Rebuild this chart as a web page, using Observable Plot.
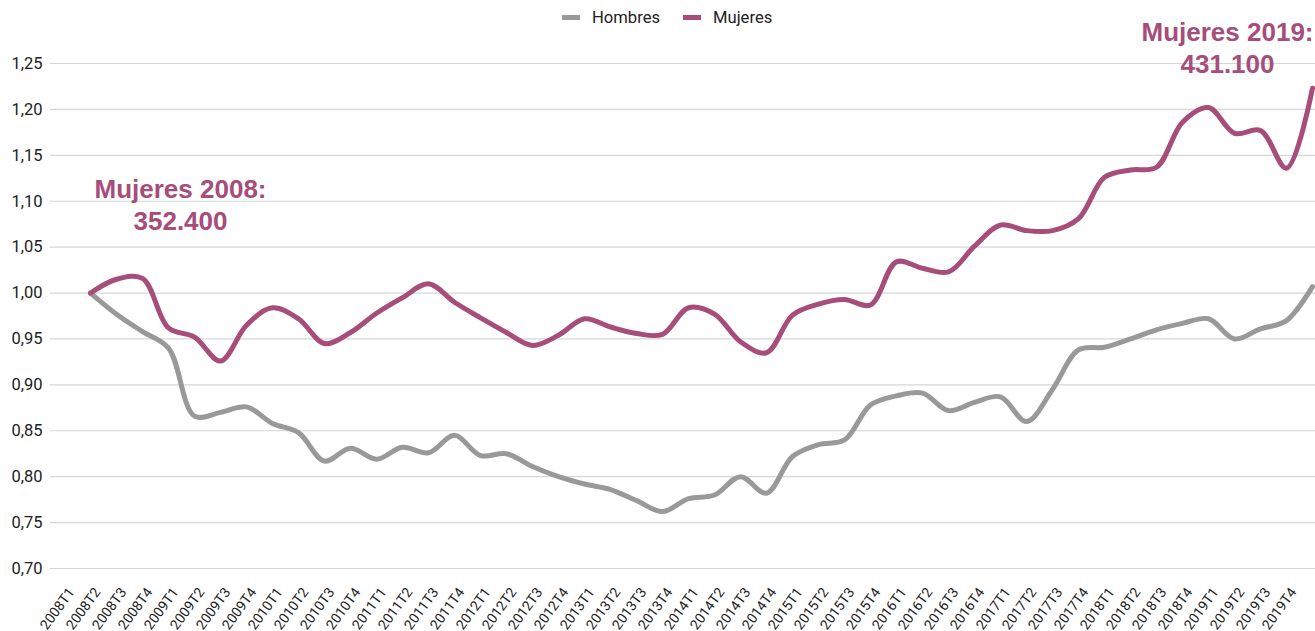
<!DOCTYPE html>
<html><head><meta charset="utf-8">
<script src="https://cdn.jsdelivr.net/npm/d3@7"></script>
<script src="https://cdn.jsdelivr.net/npm/@observablehq/plot@0.6"></script>
<style>
body{margin:0;background:#fff;}
#wrap{position:relative;width:1315px;height:631px;overflow:hidden;}
#legend{position:absolute;top:8px;left:562px;display:flex;align-items:center;font-family:Roboto,sans-serif;font-size:16.6px;color:#222;z-index:2;}
.item{display:flex;align-items:center;margin-right:23px;}
.sw{display:inline-block;width:18px;height:5px;margin-right:12px;}
</style></head>
<body><div id="wrap"><div id="legend"></div><div id="chart"></div></div>
<script>
const quarters = ["2008T1","2008T2","2008T3","2008T4","2009T1","2009T2","2009T3","2009T4",
  "2010T1","2010T2","2010T3","2010T4","2011T1","2011T2","2011T3","2011T4",
  "2012T1","2012T2","2012T3","2012T4","2013T1","2013T2","2013T3","2013T4",
  "2014T1","2014T2","2014T3","2014T4","2015T1","2015T2","2015T3","2015T4",
  "2016T1","2016T2","2016T3","2016T4","2017T1","2017T2","2017T3","2017T4",
  "2018T1","2018T2","2018T3","2018T4","2019T1","2019T2","2019T3","2019T4"];
const hombres = [1.000,0.977,0.958,0.940,0.866,0.870,0.876,0.858,0.848,0.817,0.831,0.819,
  0.832,0.826,0.845,0.823,0.825,0.811,0.800,0.792,0.786,0.774,0.762,0.776,
  0.780,0.800,0.782,0.822,0.835,0.840,0.878,0.888,0.891,0.872,0.881,0.887,
  0.860,0.895,0.938,0.941,0.950,0.960,0.967,0.972,0.950,0.961,0.970,1.007];
const mujeres = [1.000,1.015,1.016,0.962,0.952,0.926,0.965,0.984,0.972,0.945,0.957,0.978,
  0.995,1.010,0.990,0.973,0.957,0.943,0.954,0.972,0.963,0.956,0.955,0.984,
  0.977,0.947,0.935,0.976,0.988,0.993,0.987,1.034,1.027,1.023,1.051,1.074,
  1.068,1.068,1.081,1.126,1.134,1.137,1.186,1.202,1.174,1.177,1.136,1.223];
const series = ["Hombres","Mujeres"];
const colors = ["#999999","#a64d79"];
const yTicks = [0.70,0.75,0.80,0.85,0.90,0.95,1.00,1.05,1.10,1.15,1.20,1.25];
const annotQ = ["2008T4","2019T1"];
const annotY = [1.097,1.268];
const annotText = ["Mujeres 2008:\n352.400","Mujeres 2019:\n431.100"];

const data = quarters.flatMap((q,i)=>[
  {q, serie:series[0], v:hombres[i]},
  {q, serie:series[1], v:mujeres[i]}
]);
const annots = annotQ.map((q,i)=>({q, v:annotY[i], label:annotText[i]}));

// legend
const leg = document.getElementById("legend");
series.forEach((s,i)=>{
  const it = document.createElement("div"); it.className="item";
  const sw = document.createElement("span"); sw.className="sw"; sw.style.background=colors[i];
  const tx = document.createElement("span"); tx.textContent=s;
  it.appendChild(sw); it.appendChild(tx); leg.appendChild(it);
});

const annStyle = {x:"q", y:"v", text:"label", fontWeight:"bold", fontFamily:"Liberation Sans, Arial, sans-serif",
  fontSize:26, fill:colors[1], lineHeight:1.22, lineAnchor:"middle", textAnchor:"middle"};

const chart = Plot.plot({
  width:1315, height:631,
  marginLeft:50, marginRight:0, marginTop:63, marginBottom:63,
  style:{fontFamily:"Roboto, sans-serif", fontSize:"13px", color:"#222", background:"#fff", overflow:"visible"},
  x:{type:"point", domain:quarters, range:[90,1312], padding:0, axis:null},
  y:{domain:[0.70,1.25]},
  color:{domain:series, range:colors},
  marks:[
    Plot.gridY({ticks:yTicks, stroke:"#d6d6d6", strokeOpacity:1, strokeWidth:1.2}),
    Plot.axisY({ticks:yTicks, tickSize:0, tickPadding:8, fontSize:16.5, fill:"#222",
      tickFormat:d=>d.toFixed(2).replace(".",","), label:null}),
    Plot.text(quarters,{x:d=>d, frameAnchor:"bottom", rotate:-54, textAnchor:"end", lineAnchor:"middle",
      dx:-19, dy:21, fontSize:14, fill:"#222"}),
    Plot.line(data,{x:"q", y:"v", stroke:"serie", z:"serie", strokeWidth:5, curve:"catmull-rom"}),
    Plot.text(annots.slice(0,1),{...annStyle, dx:12}),
    Plot.text(annots.slice(1),{...annStyle, dx:-7})
  ]
});
document.getElementById("chart").appendChild(chart);
</script>
</body></html>
